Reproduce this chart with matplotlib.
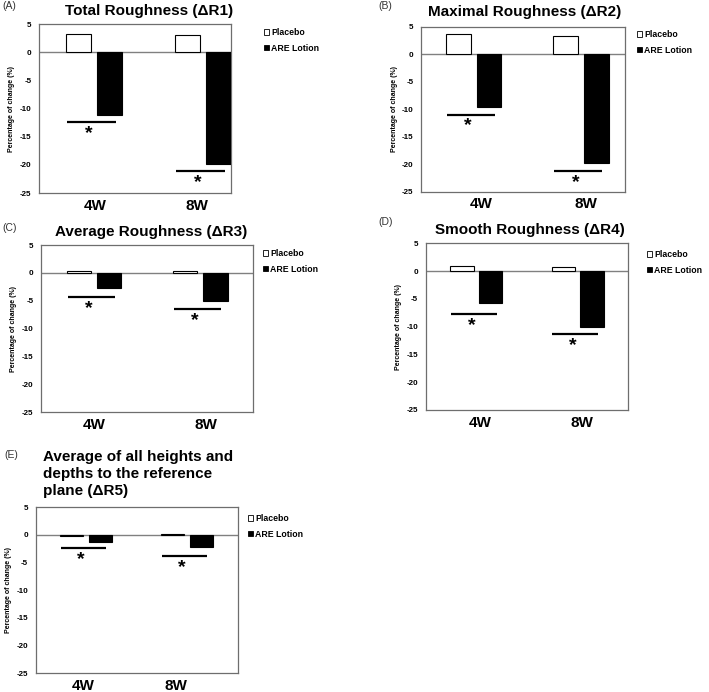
import matplotlib
matplotlib.use("Agg")
import matplotlib.pyplot as plt
from matplotlib.patches import Patch

plt.rcParams["font.family"] = ["Liberation Sans", "DejaVu Sans"]

W, H = 709, 692

# --- data ---
weeks = ["4W", "8W"]
series_names = ["Placebo", "ARE Lotion"]

r1_placebo = [3.3, 3.0]
r1_are = [-11.1, -19.8]
r1_sig = [-12.4, -21.1]

r2_placebo = [3.6, 3.4]
r2_are = [-9.6, -19.8]
r2_sig = [-11.0, -21.3]

r3_placebo = [0.35, 0.25]
r3_are = [-2.7, -5.1]
r3_sig = [-4.4, -6.45]

r4_placebo = [0.95, 0.65]
r4_are = [-5.8, -10.1]
r4_sig = [-7.7, -11.3]

r5_placebo = [-0.1, 0.15]
r5_are = [-1.2, -2.1]
r5_sig = [-2.4, -3.8]

yticks = [5, 0, -5, -10, -15, -20, -25]

titles = ["Total Roughness (\u0394R1)", "Maximal Roughness (\u0394R2)",
          "Average Roughness (\u0394R3)", "Smooth Roughness (\u0394R4)",
          "Average of all heights and\ndepths to the reference\nplane (\u0394R5)"]
letters = ["(A)", "(B)", "(C)", "(D)", "(E)"]

# --- layout (pixels): axes box, xlim, tick label positions, title, letter, legend ---
panels = [
    dict(box=(39, 24, 231, 193), xlim=(-0.505, 1.257), xt=(0.01, 0.945),
         title_xy=(149, 11), letter_xy=(2, 6), leg_xy=(264, 28)),
    dict(box=(421, 26.7, 625, 191.7), xlim=(-0.49, 1.41), xt=(0.07, 1.05),
         title_xy=(525, 12), letter_xy=(378, 6), leg_xy=(637, 30)),
    dict(box=(41, 245, 253.3, 412.3), xlim=(-0.5, 1.5), xt=(0.0, 1.05),
         title_xy=(151, 232), letter_xy=(2, 228), leg_xy=(263, 249)),
    dict(box=(425.7, 243.3, 628.3, 410), xlim=(-0.5, 1.5), xt=(0.035, 1.04),
         title_xy=(530, 230), letter_xy=(378, 222), leg_xy=(647, 250)),
    dict(box=(35.7, 507.3, 237.7, 673.3), xlim=(-0.5, 1.5), xt=(-0.03, 0.89),
         title_xy=(43, 474), letter_xy=(4, 455), leg_xy=(248, 514)),
]
placebo_all = [r1_placebo, r2_placebo, r3_placebo, r4_placebo, r5_placebo]
are_all = [r1_are, r2_are, r3_are, r4_are, r5_are]
sig_all = [r1_sig, r2_sig, r3_sig, r4_sig, r5_sig]

BAR_W = 0.23
OFF = 0.143

fig = plt.figure(figsize=(W / 100, H / 100), dpi=100)

for i, p in enumerate(panels):
    l, t, r, b = p["box"]
    ax = fig.add_axes([l / W, 1 - b / H, (r - l) / W, (b - t) / H])
    xs = list(range(len(weeks)))

    ax.bar([x - OFF for x in xs], placebo_all[i], BAR_W, color="white",
           edgecolor="black", linewidth=0.8, label=series_names[0], zorder=3)
    ax.bar([x + OFF for x in xs], are_all[i], BAR_W, color="black",
           edgecolor="black", linewidth=0.8, label=series_names[1], zorder=3)
    ax.axhline(0, color="#808080", lw=1.0, zorder=2)

    # significance bars
    for x, s in zip(xs, sig_all[i]):
        ax.plot([x - 0.25, x + 0.2], [s, s], color="black", lw=1.6,
                solid_capstyle="butt", zorder=4)
        ax.text(x - 0.05, s - 0.5, "*", ha="center", va="top",
                fontsize=14, fontweight="bold")

    ax.set_xlim(*p["xlim"])
    ax.set_ylim(-25, 5)
    ax.set_yticks(yticks)
    ax.set_yticklabels([str(v) for v in yticks], fontsize=5.8, fontweight="bold")
    ax.set_xticks(p["xt"])
    ax.set_xticklabels(weeks, fontsize=11, fontweight="bold")
    ax.tick_params(axis="both", length=0)
    ax.tick_params(axis="y", pad=5.5)
    ax.tick_params(axis="x", pad=4)
    for sp in ax.spines.values():
        sp.set_color("#6e6e6e")
        sp.set_linewidth(0.9)

    ax.set_ylabel("Percentage of change (%)", fontsize=5, fontweight="bold")
    ax.yaxis.set_label_coords(-23.5 / (r - l), 0.5)

    handles = [Patch(facecolor="white", edgecolor="black", linewidth=0.6),
               Patch(facecolor="black", edgecolor="black", linewidth=0.6)]
    lx, ly = p["leg_xy"]
    ax.legend(handles, series_names, loc="upper left",
              bbox_to_anchor=(lx / W, 1 - ly / H), bbox_transform=fig.transFigure,
              frameon=False, prop=dict(size=6.3, weight="bold"),
              handlelength=0.6, handleheight=0.6, handletextpad=0.2,
              labelspacing=0.75, borderpad=0, borderaxespad=0)

    tx, ty = p["title_xy"]
    if i == 4:
        fig.text(tx / W, 1 - ty / H, titles[i], ha="left", va="center",
                 fontsize=11, fontweight="bold", linespacing=1.25)
    else:
        fig.text(tx / W, 1 - ty / H, titles[i], ha="center", va="center",
                 fontsize=11, fontweight="bold")
    lx2, ly2 = p["letter_xy"]
    fig.text(lx2 / W, 1 - ly2 / H, letters[i], ha="left", va="center",
             fontsize=7.5, color="#333333")

fig.savefig("out.png", dpi=100)
